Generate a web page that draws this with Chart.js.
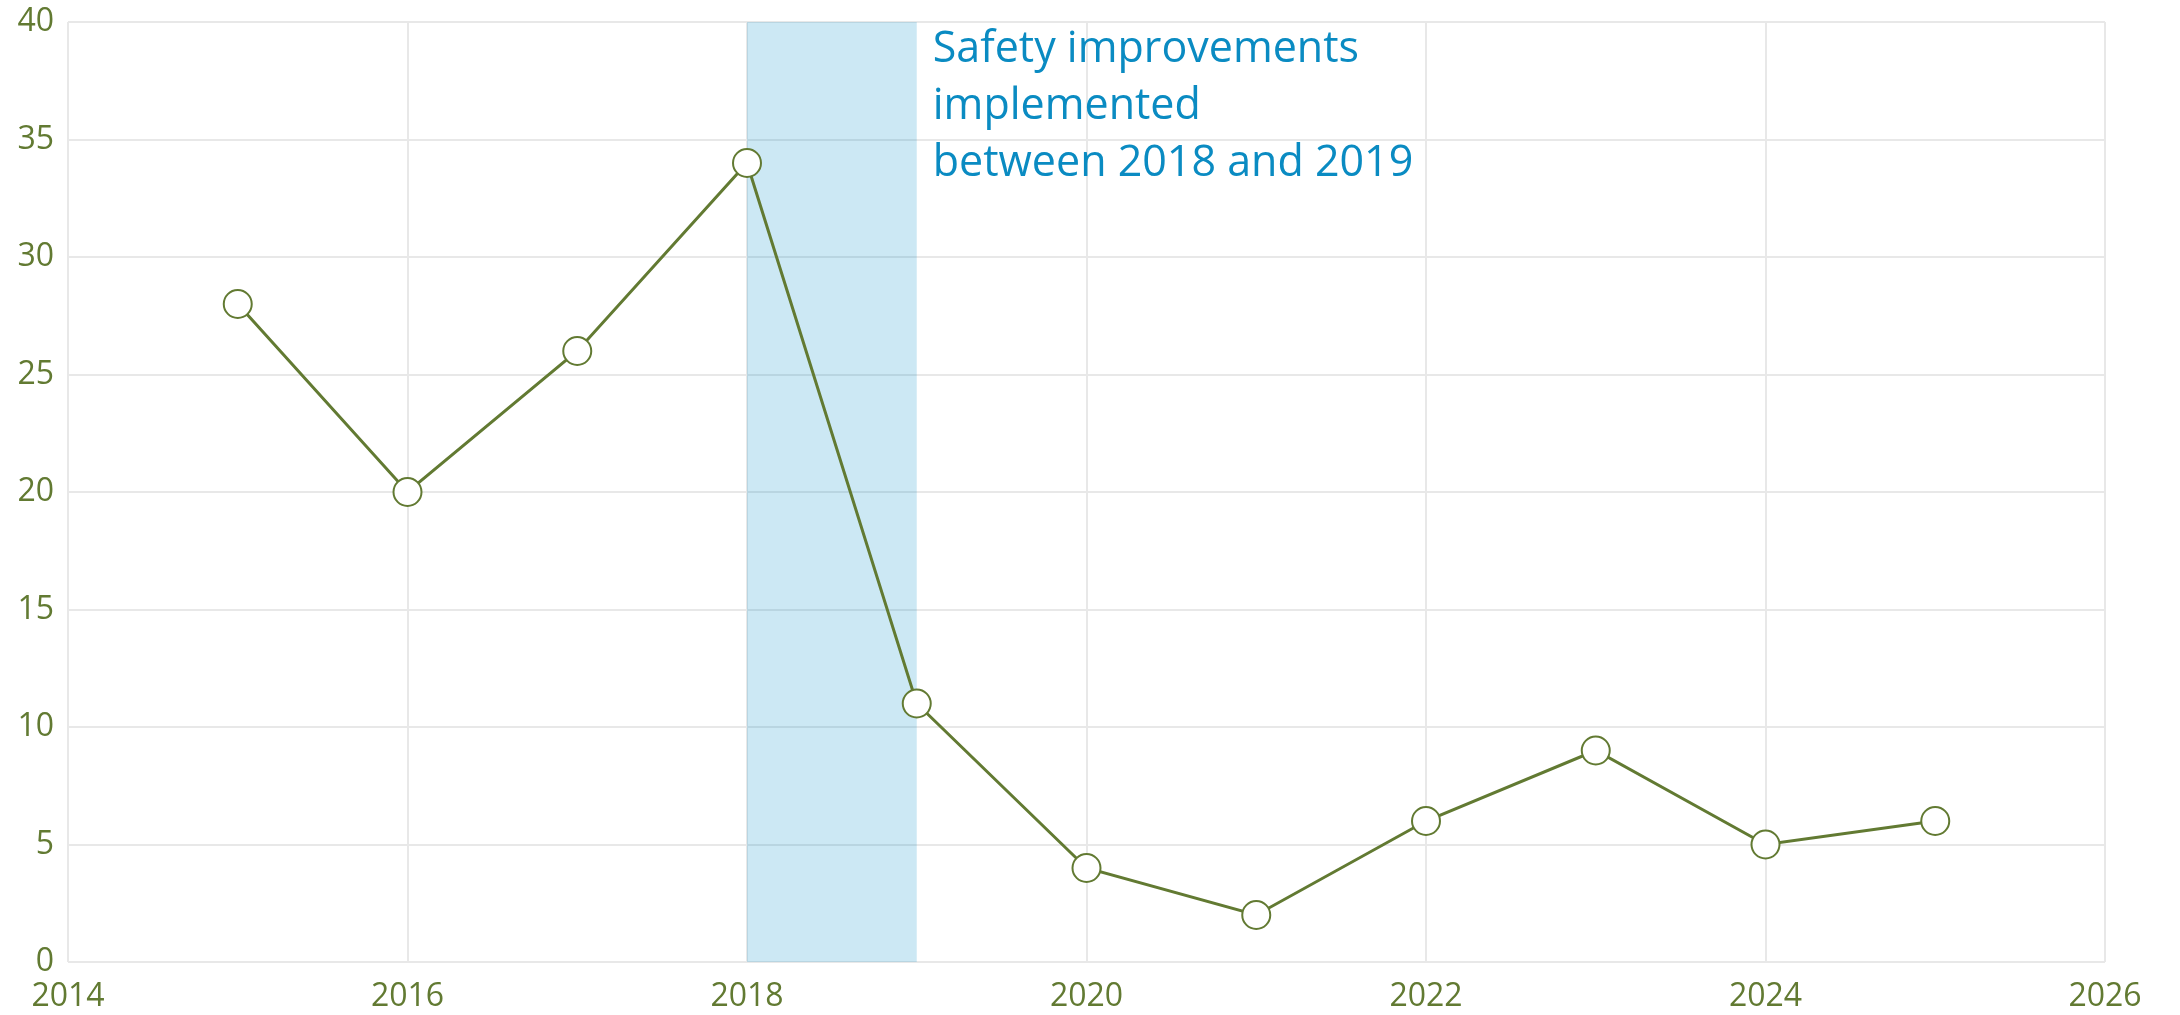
<!DOCTYPE html>
<html>
<head>
<meta charset="utf-8">
<script src="https://cdn.jsdelivr.net/npm/chart.js@4"></script>
<style>
html,body{margin:0;padding:0;background:#fff;}
#wrap{width:2180px;height:1015px;position:relative;}
</style>
</head>
<body>
<div id="wrap"><canvas id="c" width="2180" height="1015"></canvas></div>
<script>
const years = [2015, 2016, 2017, 2018, 2019, 2020, 2021, 2022, 2023, 2024, 2025];
const values = [28, 20, 26, 34, 11, 4, 2, 6, 9, 5, 6];
const bandRange = [2018, 2019];
const noteLines = ["Safety improvements", "implemented", "between 2018 and 2019"];
const xTicks = [2014, 2016, 2018, 2020, 2022, 2024, 2026];
const yTicks = [0, 5, 10, 15, 20, 25, 30, 35, 40];

const GREEN = '#627a32';
const BLUE = '#0a8bc2';
const FONT = '"Open Sans", sans-serif';

const bandPlugin = {
  id: 'band',
  beforeDatasetsDraw(chart) {
    const {ctx, chartArea, scales} = chart;
    const x0 = scales.x.getPixelForValue(bandRange[0]);
    const x1 = scales.x.getPixelForValue(bandRange[1]);
    ctx.save();
    ctx.fillStyle = 'rgba(0,140,200,0.2)';
    ctx.fillRect(x0, chartArea.top, x1 - x0, chartArea.bottom - chartArea.top);
    ctx.restore();
  },
  afterDraw(chart) {
    const {ctx, chartArea, scales} = chart;
    const x = scales.x.getPixelForValue(bandRange[1]) + 16;
    ctx.save();
    ctx.fillStyle = BLUE;
    ctx.font = '43px ' + FONT;
    ctx.textBaseline = 'alphabetic';
    noteLines.forEach((t, i) => ctx.fillText(t, x, chartArea.top + 40 + i * 57));
    ctx.restore();
  }
};

new Chart(document.getElementById('c'), {
  type: 'line',
  data: {
    datasets: [{
      data: years.map((y, i) => ({x: y, y: values[i]})),
      borderColor: GREEN,
      borderWidth: 3,
      pointRadius: 14,
      pointBorderWidth: 2,
      pointBackgroundColor: '#ffffff',
      pointBorderColor: GREEN,
      tension: 0
    }]
  },
  options: {
    responsive: false,
    animation: false,
    layout: {padding: {top: 22, right: 75, left: 0, bottom: 0}},
    plugins: {legend: {display: false}, tooltip: {enabled: false}},
    scales: {
      x: {
        type: 'linear', min: 2014, max: 2026,
        afterBuildTicks(scale) { scale.ticks = xTicks.map(v => ({value: v})); },
        afterFit(scale) { scale.height = 53; scale.paddingLeft = 0; scale.paddingRight = 0; },
        grid: {color: '#e8e8e8', lineWidth: 2, drawTicks: false},
        border: {display: false},
        ticks: {color: GREEN, font: {family: FONT, size: 32}, padding: 16, maxRotation: 0, callback: v => String(v)}
      },
      y: {
        min: 0, max: 40,
        afterBuildTicks(scale) { scale.ticks = yTicks.map(v => ({value: v})); },
        afterFit(scale) { scale.width = 68; scale.paddingTop = 0; scale.paddingBottom = 0; },
        grid: {color: '#e8e8e8', lineWidth: 2, drawTicks: false},
        border: {display: false},
        ticks: {color: GREEN, font: {family: FONT, size: 32}, padding: 14}
      }
    }
  },
  plugins: [bandPlugin]
});
</script>
</body>
</html>
